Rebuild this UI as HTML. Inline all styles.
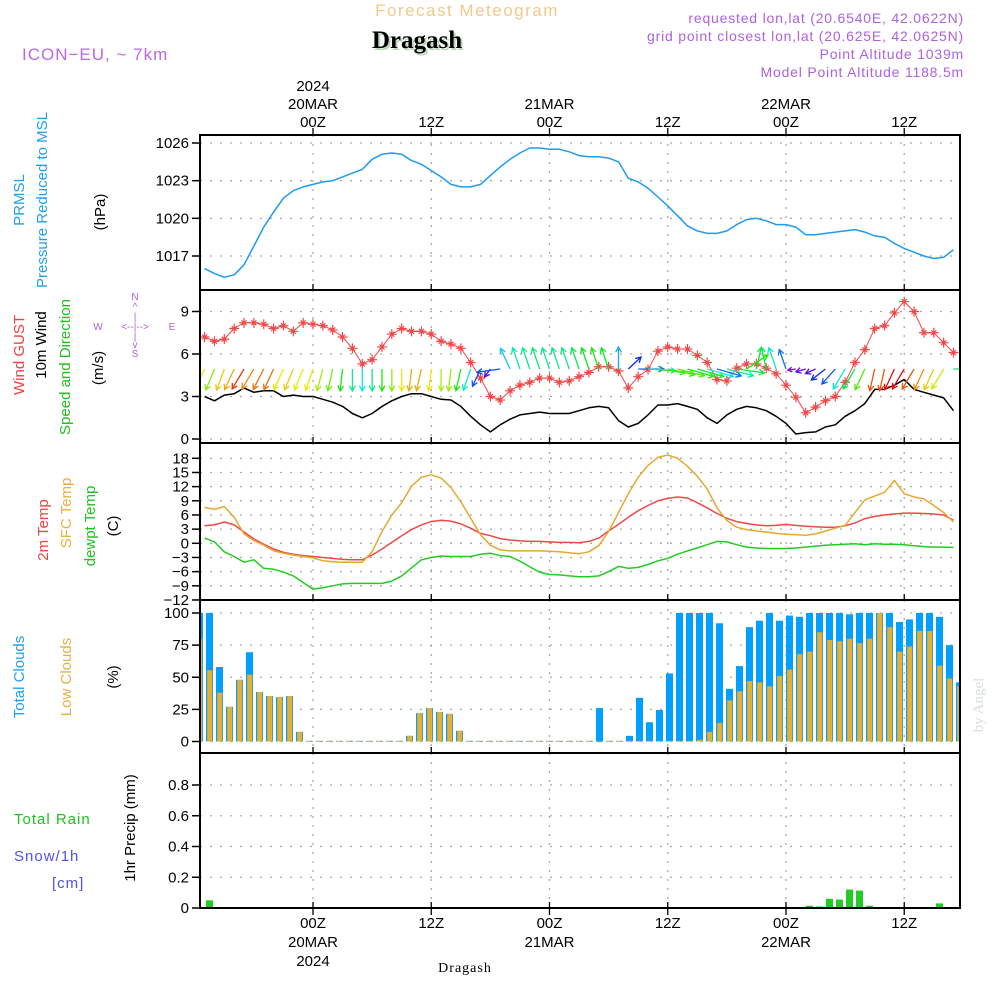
<!DOCTYPE html>
<html><head><meta charset="utf-8"><style>
html,body{margin:0;padding:0;background:#fff;}
svg{display:block;font-family:"Liberation Sans",sans-serif;}
</style></head><body>
<svg id="chart" width="1000" height="1000" viewBox="0 0 1000 1000" xmlns="http://www.w3.org/2000/svg">
<defs><clipPath id="plotclip"><rect x="201" y="135" width="758" height="773"/></clipPath></defs>
<text x="467" y="16" text-anchor="middle" font-size="17" fill="#f2c98a" letter-spacing="1.5">Forecast Meteogram</text>
<text x="419" y="50" text-anchor="middle" font-size="25" font-weight="bold" font-family="Liberation Serif,serif" fill="#bcd8bc">Dragash</text>
<text x="417" y="48" text-anchor="middle" font-size="25" font-weight="bold" font-family="Liberation Serif,serif" fill="#000">Dragash</text>
<text x="22" y="60" font-size="17" fill="#b868e8" letter-spacing="1">ICON−EU, ~ 7km</text>
<g font-size="14" fill="#b060e0" text-anchor="end" letter-spacing="0.8">
<text x="964" y="23">requested lon,lat (20.6540E, 42.0622N)</text>
<text x="964" y="41">grid point closest lon,lat (20.625E, 42.0625N)</text>
<text x="964" y="59">Point Altitude 1039m</text>
<text x="964" y="77">Model Point Altitude 1188.5m</text>
</g>
<g id="axes"></g>
<g id="marks" clip-path="url(#plotclip)"></g>
<g id="frames"></g>
<g font-size="15">
<text transform="translate(24,200) rotate(-90)" text-anchor="middle" fill="#1ea0f0">PRMSL</text>
<text transform="translate(47,200) rotate(-90)" text-anchor="middle" fill="#1ea0f0">Pressure Reduced to MSL</text>
<text transform="translate(105,212) rotate(-90)" text-anchor="middle" fill="#000">(hPa)</text>
<text transform="translate(24,355) rotate(-90)" text-anchor="middle" fill="#f04040">Wind GUST</text>
<text transform="translate(46,345) rotate(-90)" text-anchor="middle" fill="#000">10m Wind</text>
<text transform="translate(70,367) rotate(-90)" text-anchor="middle" fill="#20c020">Speed and Direction</text>
<text transform="translate(103,368) rotate(-90)" text-anchor="middle" fill="#000">(m/s)</text>
<text transform="translate(48,530) rotate(-90)" text-anchor="middle" fill="#f04040">2m Temp</text>
<text transform="translate(71,513) rotate(-90)" text-anchor="middle" fill="#e8b040">SFC Temp</text>
<text transform="translate(95,526) rotate(-90)" text-anchor="middle" fill="#20c020">dewpt Temp</text>
<text transform="translate(118,526) rotate(-90)" text-anchor="middle" fill="#000">(C)</text>
<text transform="translate(24,677) rotate(-90)" text-anchor="middle" fill="#1ea0f0">Total Clouds</text>
<text transform="translate(71,677) rotate(-90)" text-anchor="middle" fill="#e8b040">Low Clouds</text>
<text transform="translate(118,677) rotate(-90)" text-anchor="middle" fill="#000">(%)</text>
<text transform="translate(135,828) rotate(-90)" text-anchor="middle" fill="#000">1hr Precip (mm)</text>
<text x="14" y="824" fill="#20c020" letter-spacing="1">Total   Rain</text>
<text x="14" y="861" fill="#5050f0" letter-spacing="1">Snow/1h</text>
<text x="52" y="888" fill="#5050f0" letter-spacing="1">[cm]</text>
</g>
<g font-size="10" fill="#b060e0" text-anchor="middle">
<text x="135" y="300">N</text><text x="135" y="310">^</text><text x="135" y="320">|</text>
<text x="98" y="330">W</text><text x="135" y="330">&lt;--|--&gt;</text><text x="172" y="330">E</text>
<text x="135" y="340">|</text><text x="135" y="348">v</text><text x="135" y="357">S</text>
</g>
<text x="465" y="972" text-anchor="middle" font-size="14" font-family="Liberation Serif,serif" letter-spacing="1">Dragash</text>
<text transform="translate(983,705) rotate(-90)" text-anchor="middle" font-size="15" font-family="Liberation Serif,serif" fill="#d8e0d8">by Angel</text>
</svg>
<script>
// ---- data ----
const pressureHPa=[1016.0,1015.6,1015.3,1015.5,1016.3,1017.8,1019.3,1020.5,1021.6,1022.2,1022.5,1022.7,1022.9,1023.0,1023.3,1023.6,1023.9,1024.7,1025.1,1025.2,1025.1,1024.6,1024.3,1023.8,1023.3,1022.7,1022.5,1022.5,1022.7,1023.4,1024.1,1024.7,1025.2,1025.6,1025.6,1025.5,1025.5,1025.3,1025.0,1024.9,1024.9,1024.8,1024.5,1023.2,1022.9,1022.4,1021.7,1021.0,1020.2,1019.4,1019.0,1018.8,1018.8,1019.0,1019.5,1019.9,1020.0,1019.8,1019.5,1019.5,1019.3,1018.7,1018.7,1018.8,1018.9,1019.0,1019.1,1018.9,1018.6,1018.5,1018.0,1017.6,1017.3,1017.0,1016.8,1016.9,1017.5];
const windSpeed=[3.0,2.7,3.1,3.2,3.6,3.3,3.4,3.4,3.0,3.1,3.0,3.0,2.8,2.6,2.3,1.8,1.5,1.8,2.3,2.7,3.0,3.2,3.2,3.0,2.8,2.75,2.3,1.6,1.0,0.5,1.0,1.4,1.7,1.8,1.9,1.8,1.8,1.8,2.0,2.2,2.3,2.2,1.3,0.85,1.1,1.7,2.4,2.4,2.5,2.3,2.1,1.5,1.1,1.7,2.1,2.3,2.2,2.0,1.6,1.1,0.35,0.45,0.5,0.85,1.0,1.6,2.0,2.5,3.5,3.5,3.8,4.2,3.5,3.3,3.1,2.9,2.0];
const windGust=[7.2,6.9,7.05,7.8,8.2,8.2,8.1,7.8,8.0,7.6,8.2,8.1,8.0,7.7,7.2,6.4,5.3,5.6,6.5,7.4,7.8,7.6,7.6,7.4,6.9,6.7,6.4,5.4,4.3,3.0,2.75,3.4,3.8,4.0,4.3,4.3,4.0,4.1,4.4,4.7,5.1,5.1,4.8,3.6,4.4,4.9,6.2,6.5,6.35,6.35,5.9,5.4,4.2,4.1,5.0,5.3,5.3,5.0,4.6,3.8,2.95,1.85,2.25,2.7,3.0,4.0,5.4,6.3,7.8,8.0,8.9,9.7,9.0,7.5,7.5,6.8,6.1];
const windDirTo=[200,198,196,200,205,205,202,200,200,198,198,195,192,190,185,180,180,180,180,180,180,185,190,185,180,185,190,195,200,210,260,340,345,345,345,345,345,345,345,345,345,345,0,40,90,95,100,105,108,110,110,110,110,108,100,50,10,350,345,345,260,250,240,225,215,205,205,200,190,190,200,205,205,200,200,205,90];
const temp2m=[3.7,3.9,4.5,3.9,2.4,0.9,-0.2,-1.2,-1.9,-2.3,-2.6,-2.8,-3.0,-3.2,-3.4,-3.5,-3.5,-2.5,-1.2,0.2,1.6,2.9,3.9,4.6,4.9,4.7,4.1,3.2,2.1,1.6,1.0,0.7,0.5,0.4,0.4,0.3,0.2,0.2,0.1,0.4,1.1,2.6,4.0,5.5,6.9,8.0,9.0,9.5,9.8,9.6,8.6,7.5,6.3,5.3,4.6,4.2,3.9,3.7,3.8,4.0,3.8,3.6,3.5,3.4,3.4,3.7,4.3,5.2,5.7,6.0,6.2,6.4,6.4,6.3,6.2,6.0,4.9];
const tempSfc=[7.6,7.2,7.8,5.5,2.0,0.6,-0.4,-1.6,-2.1,-2.5,-2.8,-3.1,-3.7,-3.9,-4.0,-4.0,-4.0,-1.8,2.5,6.0,8.6,12.1,14.0,14.5,13.8,11.8,8.8,5.3,1.8,-0.4,-1.4,-1.6,-1.6,-1.6,-1.6,-1.7,-1.8,-2.0,-2.2,-1.8,-0.5,2.5,6.5,10.5,14.0,16.5,18.2,18.7,18.0,16.3,14.2,11.5,7.5,4.8,3.4,2.9,2.6,2.4,2.1,1.9,1.8,1.7,2.0,2.6,3.2,3.8,6.5,9.2,10.0,10.8,13.3,10.5,9.8,9.4,8.0,6.5,4.5];
const tempDew=[1.1,0.3,-1.8,-2.8,-4.0,-3.5,-5.3,-5.5,-6.1,-6.9,-8.3,-9.7,-9.4,-9.0,-8.6,-8.5,-8.5,-8.5,-8.5,-8.0,-6.9,-5.2,-3.5,-3.0,-2.7,-2.8,-2.8,-2.8,-2.3,-2.1,-2.6,-2.8,-3.8,-5.0,-6.1,-6.6,-6.7,-6.9,-7.1,-7.1,-6.9,-6.0,-4.9,-5.3,-5.1,-4.5,-3.7,-3.2,-2.3,-1.6,-1.0,-0.3,0.4,0.3,-0.3,-0.8,-1.0,-1.1,-1.1,-1.1,-1.0,-0.8,-0.6,-0.4,-0.3,-0.2,-0.1,-0.3,-0.1,-0.2,-0.2,-0.3,-0.5,-0.7,-0.8,-0.8,-0.9];
const totalClouds=[100,100,58,27,48,69.5,38.5,35.4,34.6,35.4,7.5,0.5,0.5,0.5,0.5,0.5,0.5,0.5,0.5,0.5,0.5,4.4,22,26,23,21.5,8.3,0.5,0.5,0.5,0.5,0.5,0.5,0.5,0.5,0.5,0.5,0.5,0.5,0.5,26,0.5,0.5,4.4,34,15,24.5,53,100,100,100,100,92,41,58.7,89,94,100,94,98,97,100,100,100,100,99,100,100,100,100,93,95,100,100,97,75,46];
const lowClouds=[80,55.5,38,27,48,52,38.5,35.4,34.6,35.4,7.5,0.5,0.5,0.5,0.5,0.5,0.5,0.5,0.5,0.5,0.5,4.4,22,26,23,21.5,8.3,0.5,0.5,0.5,0.5,0.5,0.5,0.5,0.5,0.5,0.5,0.5,0.5,0.5,0,0.5,0.5,0.5,0.5,0.5,0.5,0.5,0.5,0.5,1.3,7.5,14.5,32,39,47,46,43,51,56,68,70,85,79,78,80,76.5,80,100,89,70,74,86,86,59,49,43];
const precipMM=[0,0.05,0,0,0,0,0,0,0,0,0,0,0,0,0,0,0,0,0,0,0,0,0,0,0,0,0,0,0,0,0,0,0,0,0,0,0,0,0,0,0,0,0,0,0,0,0,0,0,0,0,0,0,0,0,0,0,0,0,0,0.003,0.015,0.01,0.06,0.055,0.12,0.113,0.015,0,0,0,0,0,0,0.03,0,0];
const pressureTicks=[1017,1020,1023,1026];
const windTicks=[0,3,6,9];
const tempTicks=[18,15,12,9,6,3,0,-3,-6,-9,-12];
const cloudTicks=[0,25,50,75,100];
const precipTicks=[0,0.2,0.4,0.6,0.8];
const timeTickHours=[0,12,24,36,48,60];
const timeTickLabels=["00Z","12Z","00Z","12Z","00Z","12Z"];
const dayLabels=[[0,"20MAR","2024"],[24,"21MAR",""],[48,"22MAR",""]];
const firstHour=-11;

// ---- scales ----
const X0=200,X1=960;
const x=h=>313+9.854*h;
const barX=i=>199.5+10*i;
const lin=(v0,p0,v1,p1)=>v=>p0+(v-v0)*(p1-p0)/(v1-v0);
const yP=lin(1026,143,1017,256), yW=lin(0,439,9,311.5), yT=lin(0,543.3,18,458.3), yC=lin(0,741.5,100,613), yR=lin(0,908,0.8,785);
const panels=[[135,290],[290,443],[443,600],[600,753],[753,908]];
const NS="http://www.w3.org/2000/svg";
const axes=document.getElementById('axes'),marks=document.getElementById('marks'),frames=document.getElementById('frames');
function mk(tag,attrs,parent){const e=document.createElementNS(NS,tag);for(const k in attrs)e.setAttribute(k,attrs[k]);parent.appendChild(e);return e;}

function hgrid(ticks,sc,name,fmt){
  ticks.forEach(t=>{
    const y=sc(t);
    const g=mk('line',{x1:X0,x2:X1,y1:y,y2:y,stroke:'#aaa','stroke-width':1.3,'stroke-dasharray':'2,8'},axes);
    
    
    mk('line',{x1:X0-8,x2:X0,y1:y,y2:y,stroke:'#000','stroke-width':1.5},axes);
    const tx=mk('text',{x:X0-11,y:y+5,'text-anchor':'end','font-size':15,fill:'#000'},axes);
    tx.textContent=fmt?fmt(t):String(t);
    
    
  });
}
hgrid(pressureTicks,yP,'pressure');
hgrid(windTicks,yW,'wind');
hgrid(tempTicks,yT,'temp',t=>t<0?'−'+(-t):String(t));
hgrid(cloudTicks,yC,'cloud');
hgrid(precipTicks,yR,'precip');
timeTickHours.forEach((h,k)=>{
  const xx=x(h);
  panels.forEach(p=>{
    const v=mk('line',{x1:xx,x2:xx,y1:p[0],y2:p[1],stroke:'#aaa','stroke-width':1.3,'stroke-dasharray':'2,7'},axes);
    
    
    mk('line',{x1:xx,x2:xx,y1:p[1]-6,y2:p[1],stroke:'#000','stroke-width':1.3},axes);
  });
  mk('line',{x1:xx,x2:xx,y1:128,y2:135,stroke:'#000','stroke-width':1.3},axes);
  mk('line',{x1:xx,x2:xx,y1:908,y2:915,stroke:'#000','stroke-width':1.3},axes);
  const t1=mk('text',{x:xx,y:127,'text-anchor':'middle','font-size':15},axes);
  t1.textContent=timeTickLabels[k];
  
  
  const t2=mk('text',{x:xx,y:928,'text-anchor':'middle','font-size':15},axes);
  t2.textContent=timeTickLabels[k];
  
  
});
dayLabels.forEach(d=>{
  const xx=x(d[0]);
  const a=mk('text',{x:xx,y:109,'text-anchor':'middle','font-size':15},axes);a.textContent=d[1];
  
  
  const b=mk('text',{x:xx,y:947,'text-anchor':'middle','font-size':15},axes);b.textContent=d[1];
  
  
  if(d[2]){
    const c=mk('text',{x:xx,y:91,'text-anchor':'middle','font-size':15},axes);c.textContent=d[2];
    
    
    const e=mk('text',{x:xx,y:966,'text-anchor':'middle','font-size':15},axes);e.textContent=d[2];
    
    
  }
});

totalClouds.forEach((v,i)=>{
  const cx=barX(i);
  const b=mk('rect',{x:cx-3.5,y:yC(v),width:7,height:Math.max(0.8,yC(0)-yC(v)),fill:'#00a0ff'},marks);
  
  
  const lv=lowClouds[i];
  const l=mk('rect',{x:cx-2.3,y:yC(lv),width:5,height:Math.max(0.8,yC(0)-yC(lv)),fill:'#e8b030'},marks);
  
  
});
precipMM.forEach((v,i)=>{
  if(v<=0)return;
  const cx=barX(i);
  const b=mk('rect',{x:cx-3.5,y:yR(v),width:7,height:Math.max(0.8,yR(0)-yR(v)),fill:'#22cc22'},marks);
  
  
});

function line(arr,sc,color,name,w){
  const pts=arr.map((v,i)=>x(firstHour+i).toFixed(1)+','+sc(v).toFixed(1)).join(' ');
  const p=mk('polyline',{points:pts,fill:'none',stroke:color,'stroke-width':w||1.5,'stroke-linejoin':'round'},marks);
  
  
}
line(pressureHPa,yP,'#1e9bf0','pressure-line');
line(windSpeed,yW,'#000','wind-speed-line');
line(windGust,yW,'#f04848','wind-gust-line',1);
windGust.forEach((v,i)=>{
  const cx=x(firstHour+i),cy=yW(v);
  const m=mk('path',{d:`M${cx-5},${cy}H${cx+5}M${cx},${cy-5}V${cy+5}M${cx-2.5},${cy-2.5}L${cx+2.5},${cy+2.5}M${cx-2.5},${cy+2.5}L${cx+2.5},${cy-2.5}`,stroke:'#f04848','stroke-width':1.2,fill:'none'},marks);
  
  
});
line(tempDew,yT,'#22cc22','dewpoint-line');
line(temp2m,yT,'#f04848','temp-2m-line');
line(tempSfc,yT,'#e8a830','temp-sfc-line');

windDirTo.forEach((b,i)=>{
  const s=windSpeed[i];
  const r=b*Math.PI/180;
  const f=Math.min(1,s/1.2);
  const dx=Math.sin(r)*28*f, dy=-Math.cos(r)*22*f;
  const x0=x(firstHour+i), y0=369, x1=x0+dx, y1=y0+dy;
  const hue=Math.max(0,300-80*s);
  const col=`hsl(${hue},90%,48%)`;
  const a=Math.atan2(dy,dx), L=Math.min(6,Math.hypot(dx,dy)*0.6);
  const d=`M${x0},${y0}L${x1},${y1}M${x1-L*Math.cos(a-0.5)},${y1-L*Math.sin(a-0.5)}L${x1},${y1}L${x1-L*Math.cos(a+0.5)},${y1-L*Math.sin(a+0.5)}`;
  const p=mk('path',{d:d,stroke:col,'stroke-width':1.3,fill:'none'},marks);
  
  
});

panels.forEach(p=>{
  const r=mk('rect',{x:X0,y:p[0],width:X1-X0,height:p[1]-p[0],fill:'none',stroke:'#000','stroke-width':2},frames);
  
  
});
</script>
</body></html>
